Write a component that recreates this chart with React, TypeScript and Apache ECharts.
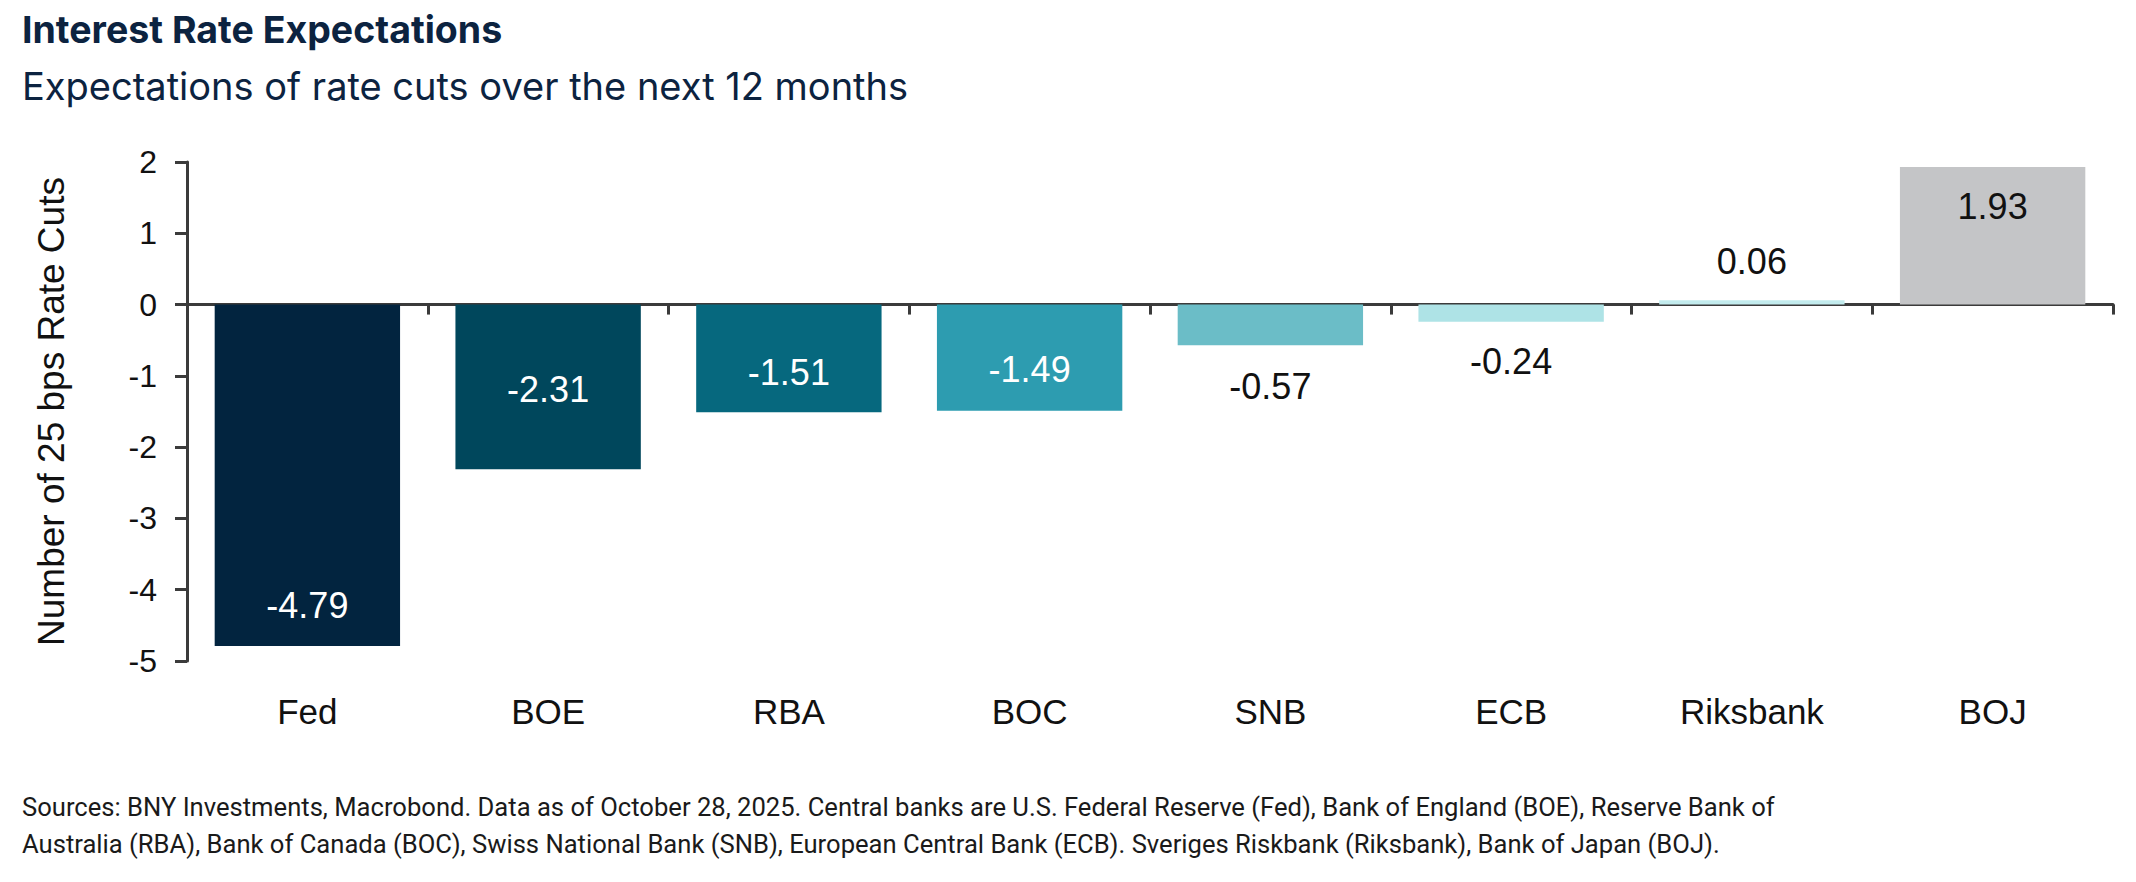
import React, { useEffect, useRef } from "react";
import * as echarts from "echarts";

const categories = ["Fed", "BOE", "RBA", "BOC", "SNB", "ECB", "Riksbank", "BOJ"];
const values = [-4.79, -2.31, -1.51, -1.49, -0.57, -0.24, 0.06, 1.93];
const yMin = -5;
const yMax = 2;
const yInterval = 1;

const titleText = "Interest Rate Expectations";
const subtitleText = "Expectations of rate cuts over the next 12 months";
const yAxisName = "Number of 25 bps Rate Cuts";
const sourceLines = [
  "Sources: BNY Investments, Macrobond. Data as of October 28, 2025. Central banks are U.S. Federal Reserve (Fed), Bank of England (BOE), Reserve Bank of",
  "Australia (RBA), Bank of Canada (BOC), Swiss National Bank (SNB), European Central Bank (ECB). Sveriges Riskbank (Riksbank), Bank of Japan (BOJ).",
];

export default function App() {
  const ref = useRef<HTMLDivElement>(null);

  useEffect(() => {
    if (!ref.current) return;
    const chart = echarts.init(ref.current, null, { renderer: "svg" });

    const barColors = ["#02243F", "#00475C", "#06687E", "#2D9CB0", "#6BBDC7", "#AEE3E6", "#C3ECEE", "#C4C5C7"];
    const labelColors = ["#ffffff", "#ffffff", "#ffffff", "#ffffff", "#111111", "#111111", "#111111", "#111111"];
    const labelPlacement: { position: string; distance: number; offset?: number[] }[] = [
      { position: "insideBottom", distance: 23 },
      { position: "inside", distance: 0, offset: [0, 3] },
      { position: "insideBottom", distance: 22 },
      { position: "insideBottom", distance: 23 },
      { position: "bottom", distance: 23 },
      { position: "bottom", distance: 22 },
      { position: "top", distance: 21 },
      { position: "insideTop", distance: 22 },
    ];

    const axisColor = "#3b3b3b";
    const chartFont = "Liberation Sans, Arial, sans-serif";

    const seriesData = values.map((v, i) => ({
      value: v,
      itemStyle: { color: barColors[i] },
      label: {
        show: true,
        position: labelPlacement[i].position,
        distance: labelPlacement[i].distance,
        offset: labelPlacement[i].offset || [0, 0],
        color: labelColors[i],
        fontSize: 36,
        fontFamily: chartFont,
        formatter: (p: any) => p.value.toFixed(2),
      },
    }));

    chart.setOption({
      animation: false,
      backgroundColor: "#ffffff",
      title: [
        {
          text: titleText,
          left: 17,
          top: 5,
          textStyle: { fontFamily: "Inter, sans-serif", fontWeight: "bold", fontSize: 37.5, color: "#0C2340" },
        },
        {
          text: subtitleText,
          left: 17,
          top: 62,
          textStyle: { fontFamily: "Inter, sans-serif", fontWeight: "normal", fontSize: 38, color: "#0C2340" },
        },
        {
          text: sourceLines.join("\n"),
          left: 17,
          top: 783,
          textStyle: { fontFamily: "Roboto, sans-serif", fontWeight: "normal", fontSize: 25.6, lineHeight: 37, color: "#1a1a1a" },
        },
      ],
      grid: { left: 187, right: 23, top: 162, bottom: 221, containLabel: false },
      xAxis: [
        {
          type: "category",
          data: categories,
          position: "bottom",
          axisLine: { show: true, onZero: true, lineStyle: { color: axisColor, width: 3 } },
          axisTick: { show: true, length: 10, lineStyle: { color: axisColor, width: 3 } },
          axisLabel: { show: false },
          splitLine: { show: false },
        },
        {
          type: "category",
          data: categories,
          position: "bottom",
          axisLine: { show: false, onZero: false },
          axisTick: { show: false },
          axisLabel: { show: true, margin: 33, fontSize: 35, color: "#111111", fontFamily: chartFont },
          splitLine: { show: false },
        },
      ],
      yAxis: {
        type: "value",
        min: yMin,
        max: yMax,
        interval: yInterval,
        name: yAxisName,
        nameLocation: "middle",
        nameGap: 117,
        nameTextStyle: { fontSize: 37, color: "#111111", fontFamily: chartFont },
        axisLine: { show: true, lineStyle: { color: axisColor, width: 3 } },
        axisTick: { show: true, length: 12, lineStyle: { color: axisColor, width: 3 } },
        axisLabel: { fontSize: 32, color: "#111111", margin: 30, fontFamily: chartFont },
        splitLine: { show: false },
      },
      series: [
        {
          type: "bar",
          xAxisIndex: 0,
          data: seriesData,
          barCategoryGap: "23%",
        },
      ],
    });

    return () => chart.dispose();
  }, []);

  return (
    <div
      ref={ref}
      style={{ position: "absolute", left: 0, top: 0, width: 2136, height: 882 }}
    />
  );
}
